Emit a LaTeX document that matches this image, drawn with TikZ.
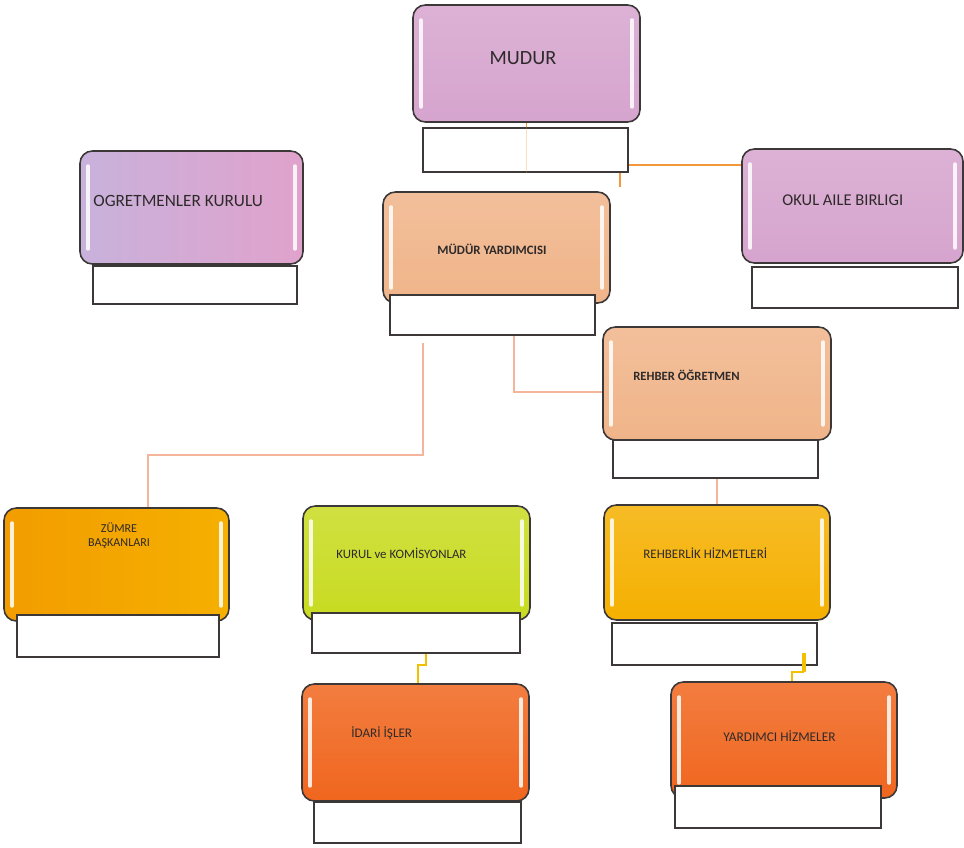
\documentclass[tikz,border=0pt]{standalone}
\usepackage{fontspec}
\setmainfont{Carlito}
\usetikzlibrary{positioning,fit}

\definecolor{kenar}{HTML}{3C3838}
\definecolor{mor}{HTML}{D6A4CE}
\definecolor{lila}{HTML}{C8B2DC}
\definecolor{pembe}{HTML}{E0A2CC}
\definecolor{seftali}{HTML}{F0B489}
\definecolor{altin}{HTML}{F5B000}
\definecolor{koyualtin}{HTML}{F29C00}
\definecolor{yesil}{HTML}{C8DB20}
\definecolor{portakal}{HTML}{F0661E}
\definecolor{hatTuruncu}{HTML}{F2983A}
\definecolor{hatSomon}{HTML}{F5B59A}
\definecolor{hatSari}{HTML}{F2C000}
\definecolor{yazirenk}{HTML}{2E2A2A}

\begin{document}
\begin{tikzpicture}[x=0.02cm, y=-0.02cm,
  kutu/.style={draw=kenar, line width=0.9pt, rounded corners=7pt, inner sep=0pt, top color=#1!85!white, bottom color=#1},
  alt/.style={draw=kenar, line width=0.9pt, fill=white, inner sep=0pt},
  yazi/.style={text=yazirenk, inner sep=0pt, font=\fontsize{7.5}{8}\selectfont},
  parilti/.style={white, line width=2pt, line cap=round, opacity=0.85},
  hat/.style={line width=1.1pt}]

  \useasboundingbox (0,0) rectangle (964,848);

  % ana kutular
  \node[kutu=mor, fit={(413,5) (640,122)}] (mudur) {};
  \node[kutu=mor, left color=lila, right color=pembe, fit={(80,151) (303,264)}] (ogretmen) {};
  \node[kutu=mor, fit={(742,149) (963,263)}] (okul) {};
  \node[kutu=seftali, fit={(383,192) (610,303)}] (myard) {};
  \node[kutu=seftali, fit={(603,327) (831,440)}] (rehber) {};
  \node[kutu=altin, left color=koyualtin, right color=altin, fit={(4,508) (229,621)}] (zumre) {};
  \node[kutu=yesil, fit={(303,506) (530,620)}] (kurul) {};
  \node[kutu=altin, fit={(604,505) (830,620)}] (rehberlik) {};
  \node[kutu=portakal, fit={(302,684) (529,801)}] (idari) {};
  \node[kutu=portakal, fit={(671,682) (897,798)}] (yardimci) {};

  \foreach \k in {mudur, ogretmen, okul, myard, rehber, zumre, kurul, rehberlik, idari, yardimci} {
    \draw[parilti] ([xshift=5pt,yshift=-9pt]\k.north west) -- ([xshift=5pt,yshift=9pt]\k.south west);
    \draw[parilti] ([xshift=-5pt,yshift=-9pt]\k.north east) -- ([xshift=-5pt,yshift=9pt]\k.south east);
  }

  % alt kutular
  \node[alt, fit={(423,128) (628,172)}] (mudurAlt) {};
  \node[alt, fit={(93,266) (297,304)}] (ogretmenAlt) {};
  \node[alt, fit={(752,267) (958,308)}] (okulAlt) {};
  \node[alt, fit={(390,295) (595,335)}] (myardAlt) {};
  \node[alt, fit={(613,440) (818,478)}] (rehberAlt) {};
  \node[alt, fit={(17,615) (219,657)}] (zumreAlt) {};
  \node[alt, fit={(312,613) (520,653)}] (kurulAlt) {};
  \node[alt, fit={(612,623) (817,665)}] (rehberlikAlt) {};
  \node[alt, fit={(314,802) (521,843)}] (idariAlt) {};
  \node[alt, fit={(675,786) (881,828)}] (yardimciAlt) {};

  % yazilar
  \node[yazi, font=\fontsize{11.5}{13}\selectfont] (mudurY) at (523,58) {MUDUR};
  \node[yazi, anchor=west, font=\fontsize{9.8}{11}\selectfont] (ogretmenY) at (93,201) {OGRETMENLER KURULU};
  \node[yazi, anchor=west, font=\fontsize{9.4}{10}\selectfont] (okulY) at (782,200) {OKUL AILE BIRLIGI};
  \node[yazi, anchor=west, font=\bfseries\fontsize{7.3}{8}\selectfont] (myardY) at (437,249) {MÜDÜR YARDIMCISI};
  \node[yazi, anchor=west, font=\bfseries\fontsize{7.2}{8}\selectfont] (rehberY) at (633,375) {REHBER ÖĞRETMEN};
  \node[yazi, align=center, font=\fontsize{6.9}{8}\selectfont] (zumreY) at (119,536) {ZÜMRE\\BAŞKANLARI};
  \node[yazi, anchor=west, font=\fontsize{7.3}{8}\selectfont] (kurulY) at (336,553) {KURUL ve KOMİSYONLAR};
  \node[yazi, anchor=west, font=\fontsize{7.4}{8}\selectfont] (rehberlikY) at (643,553) {REHBERLİK HİZMETLERİ};
  \node[yazi, anchor=west] (idariY) at (351,733) {İDARİ İŞLER};
  \node[yazi, anchor=west, font=\fontsize{7.6}{8}\selectfont] (yardimciY) at (723,736) {YARDIMCI HİZMELER};

  % baglantilar
  \coordinate (kol) at (620,165);
  \coordinate (kolUc) at (620,187);
  \coordinate (d0) at (423,343);
  \coordinate (d1) at (514,392);
  \coordinate (d2) at (423,455);
  \coordinate (d3) at (148,455);
  \coordinate (e1) at (426,665);
  \coordinate (e2) at (418,665);
  \coordinate (f0) at (804,653);
  \coordinate (f1) at (804,672);
  \coordinate (f2) at (792,672);

  \draw[hat, hatTuruncu] (mudur.south) -- (mudurAlt.north -| mudur.south);
  \draw[hat, hatTuruncu, opacity=.3] (mudurAlt.north -| mudur.south) -- (mudurAlt.south -| mudur.south);
  \draw[hat, hatTuruncu] (mudurAlt.east |- kol) -- (okul.west |- kol);
  \draw[hat, hatTuruncu] (mudurAlt.south -| kol) -- (kolUc);
  \draw[hat, hatSomon] (myardAlt.south -| d1) -- (d1) -- (rehber.west |- d1);
  \draw[hat, hatSomon] (d0) -- (d2) -- (d3) -- (zumre.north -| d3);
  \draw[hat, hatSomon] (rehberAlt.south -| rehberlik.north) -- (rehberlik.north);
  \draw[hatSari, line width=0.9pt] (kurulAlt.south -| e1) -- (e1) -- (e2) -- (idari.north -| e2);
  \draw[hatSari, line width=2.4pt] (f0) -- (f1);
  \draw[hat, hatSari] (f1) -- (f2) -- (yardimci.north -| f2);
\end{tikzpicture}
\end{document}
